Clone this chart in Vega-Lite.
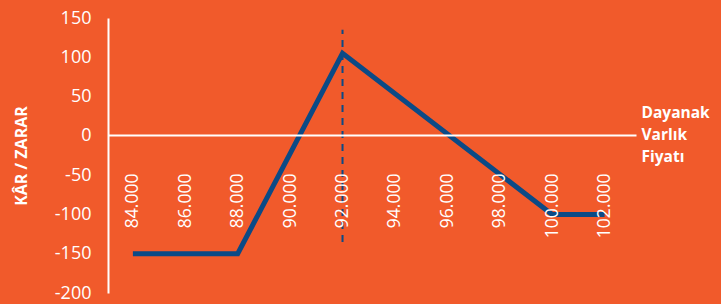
{
  "$schema": "https://vega.github.io/schema/vega-lite/v6.json",
  "autosize": "none",
  "width": 528,
  "height": 275,
  "padding": {"left": 108, "top": 18, "right": 85, "bottom": 11},
  "background": "#F15A2B",
  "config": {
    "view": {"stroke": null},
    "font": "Open Sans"
  },
  "datasets": {
    "payoff": [
      {"price": 84000, "pl": -150},
      {"price": 88000, "pl": -150},
      {"price": 92000, "pl": 105},
      {"price": 100000, "pl": -100},
      {"price": 102000, "pl": -100}
    ],
    "strike": [
      {"price": 92000, "pl": -135, "high": 135}
    ]
  },
  "encoding": {
    "x": {
      "field": "price", "type": "quantitative",
      "scale": {"domain": [83050, 103200], "nice": false, "zero": false},
      "axis": {
        "values": [84000, 86000, 88000, 90000, 92000, 94000, 96000, 98000, 100000, 102000],
        "labelExpr": "replace(format(datum.value, ','), ',', '.')",
        "orient": "bottom",
        "offset": -158,
        "zindex": 1,
        "grid": false,
        "ticks": false,
        "domain": true,
        "domainColor": "white",
        "domainWidth": 2,
        "labelAngle": -90,
        "labelPadding": 38,
        "labelColor": "white",
        "labelFontSize": 17.5,
        "labelFont": "Open Sans",
        "title": ["Dayanak", "Varlık", "Fiyatı"],
        "titleColor": "white",
        "titleFontSize": 15.5,
        "titleFontWeight": "bold",
        "titleFont": "Open Sans",
        "titleAlign": "left",
        "titleAnchor": "start",
        "titleBaseline": "top",
        "titleLineHeight": 22,
        "titleX": 533,
        "titleY": -30,
        "labelOverlap": false
      }
    },
    "y": {
      "field": "pl", "type": "quantitative",
      "scale": {"domain": [-200, 150], "nice": false},
      "axis": {
        "values": [-200, -150, -100, -50, 0, 50, 100, 150],
        "labelExpr": "replace(format(datum.value, 'd'), '−', '-')",
        "zindex": 1,
        "grid": false,
        "ticks": false,
        "domain": true,
        "domainColor": "white",
        "domainWidth": 2,
        "labelColor": "white",
        "labelFontSize": 18,
        "labelPadding": 17,
        "labelFont": "Open Sans",
        "labelOverlap": false,
        "title": "KÂR / ZARAR",
        "titleColor": "white",
        "titleFontSize": 16,
        "titleFontWeight": "bold",
        "titlePadding": 25
      }
    }
  },
  "layer": [
    {
      "data": {"name": "payoff"},
      "mark": {"type": "line", "color": "#0B4A86", "strokeWidth": 5, "strokeCap": "butt", "strokeJoin": "miter"}
    },
    {
      "data": {"name": "strike"},
      "mark": {"type": "rule", "color": "#0B4A86", "strokeWidth": 2, "strokeDash": [7, 6]},
      "encoding": {
        "y2": {"field": "high"}
      }
    }
  ]
}
